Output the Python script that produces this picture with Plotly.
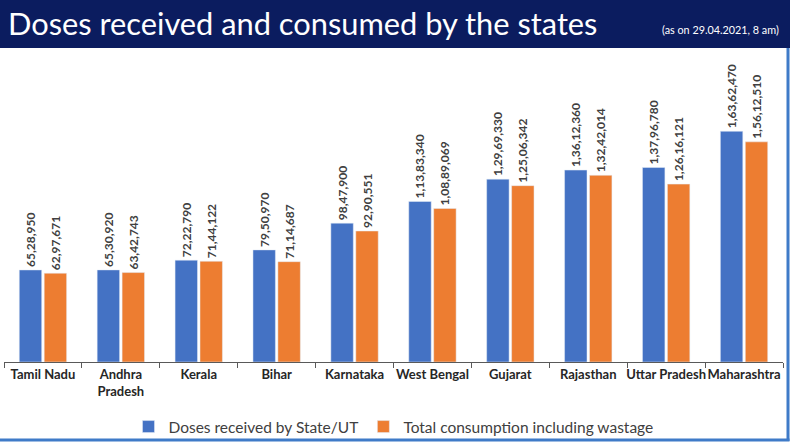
import plotly.graph_objects as go

categories = ["Tamil Nadu", "Andhra<br>Pradesh", "Kerala", "Bihar", "Karnataka",
              "West Bengal", "Gujarat", "Rajasthan", "Uttar Pradesh", "Maharashtra"]
received = [6528950, 6530920, 7222790, 7950970, 9847900,
            11383340, 12969330, 13612360, 13796780, 16362470]
consumed = [6297671, 6342743, 7144122, 7114687, 9290551,
            10889069, 12506342, 13242014, 12616121, 15612510]
series_names = ["Doses received by State/UT", "Total consumption including wastage"]
title_text = "Doses received and consumed by the states"
subtitle_text = "(as on 29.04.2021, 8 am)"


def inr(n):
    s = str(int(n))
    last3, rest = s[-3:], s[:-3]
    groups = []
    while len(rest) > 2:
        groups.insert(0, rest[-2:])
        rest = rest[:-2]
    if rest:
        groups.insert(0, rest)
    return ",".join(groups + [last3])


BLUE = "#4472C4"
ORANGE = "#ED7D31"
NAVY = "#0b1c5f"
FONT = "Lato"

W, H = 795, 447
L, R, T, B = 4, 12, 62, 85
pw, ph = W - L - R, H - T - B


def px(x):
    return (x - L) / pw


def py(y):
    return (H - B - y) / ph


fig = go.Figure()
for name, vals, col in [(series_names[0], received, BLUE), (series_names[1], consumed, ORANGE)]:
    fig.add_trace(go.Bar(
        name=name, x=categories, y=vals, marker_color=col,
        text=[inr(v) for v in vals], textposition="outside", textangle=-90,
        constraintext="none",
        textfont=dict(family=FONT, size=12, color="#404040", weight="bold"),
        cliponaxis=False,
    ))

fig.update_layout(
    width=W, height=H,
    margin=dict(l=L, r=R, t=T, b=B, autoexpand=False),
    paper_bgcolor="white", plot_bgcolor="white",
    barmode="group", bargap=0.36, bargroupgap=0.1,
    font=dict(family=FONT, color="#404040"),
    showlegend=True,
    legend=dict(orientation="h", x=0.5, xanchor="center", y=py(427), yanchor="middle",
                font=dict(family=FONT, size=15.5, color="#404040"),
                bgcolor="rgba(0,0,0,0)"),
    xaxis=dict(showline=True, linecolor="#595959", linewidth=1,
               ticks="outside", tickson="boundaries", ticklen=5, tickcolor="#595959",
               tickangle=0, automargin=False,
               tickfont=dict(family=FONT, size=13, color="#262626", weight="bold"),
               showgrid=False),
    yaxis=dict(range=[0, ph / 1.41e-5], visible=False, showgrid=False, automargin=False),
)

shapes = [
    dict(type="rect", xref="paper", yref="paper", x0=px(0), x1=px(790), y0=py(48), y1=py(0),
         fillcolor=NAVY, line=dict(width=0), layer="below"),
    dict(type="line", xref="paper", yref="paper", x0=px(788), x1=px(788), y0=py(48), y1=py(441),
         line=dict(color="#3f7bc8", width=3)),
    dict(type="line", xref="paper", yref="paper", x0=px(0), x1=px(789.5), y0=py(440), y1=py(440),
         line=dict(color="#3f7bc8", width=3)),
]
fig.update_layout(shapes=shapes)

fig.add_annotation(text=title_text, xref="paper", yref="paper", x=px(6), y=py(24),
                   xanchor="left", yanchor="middle", showarrow=False,
                   font=dict(family=FONT, size=30.8, color="white"))
fig.add_annotation(text=subtitle_text, xref="paper", yref="paper", x=px(781), y=py(30),
                   xanchor="right", yanchor="middle", showarrow=False,
                   font=dict(family=FONT, size=10.8, color="white"))

fig.write_html("out.html", config={"displayModeBar": False},
               post_script="document.body.style.margin='0';document.body.style.overflow='hidden';")
